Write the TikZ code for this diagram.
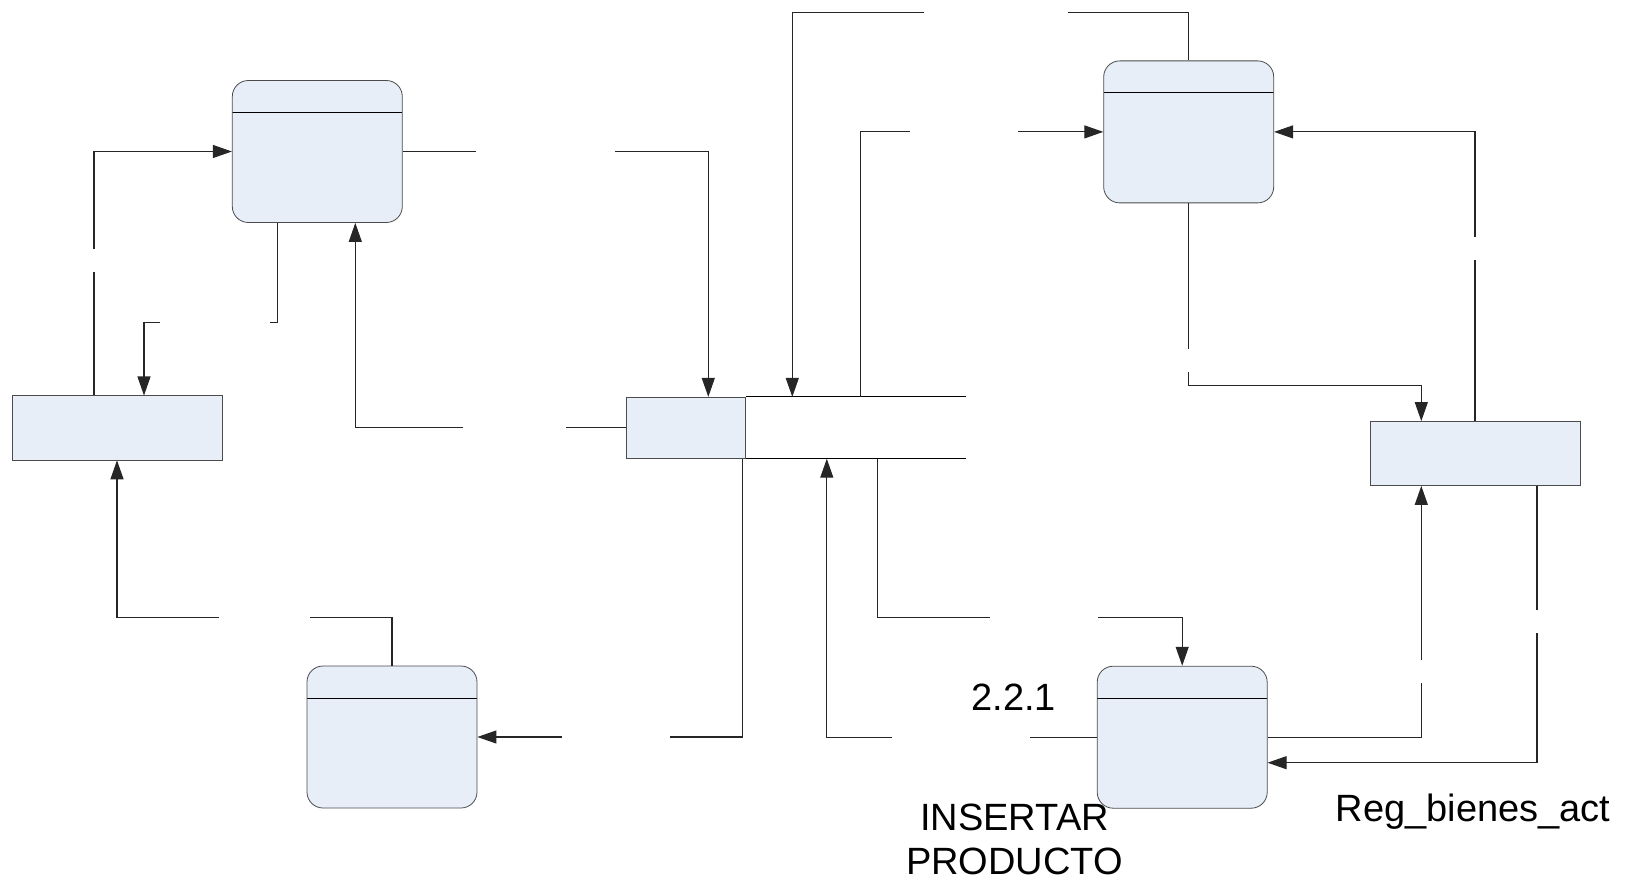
\documentclass[tikz,border=0pt]{standalone}
\usepackage{fontspec}
\setmainfont{Liberation Sans}
\usetikzlibrary{arrows.meta}
\definecolor{boxfill}{RGB}{231,238,248}

\begin{document}
\begin{tikzpicture}[x=0.5pt, y=-0.5pt,
        proc/.style={draw=black!70, fill=boxfill, rounded corners=8pt, minimum width=85pt, minimum height=71pt, inner sep=0pt,
            path picture={\draw[black, sharp corners] ([yshift=-16pt]path picture bounding box.north west) -- ([yshift=-16pt]path picture bounding box.north east);}},
        ent/.style={draw=black!70, fill=boxfill, minimum width=105pt, minimum height=32pt, inner sep=0pt},
        flow/.style={draw=black!85, line width=0.55pt, -{Triangle[length=9.5pt, width=6.5pt]}},
        txt/.style={inner sep=0pt, font=\fontsize{19}{22.8}\selectfont}]
        \useasboundingbox (0,0) rectangle (1629,882);

        \node[proc] (P1) at (317.3,151.5) {};
        \node[ent] (E1) at (117,427.9) {};
        \node[ent, minimum width=59.5pt, minimum height=30.5pt] (D) at (685.8,427.8) {};
        \node[proc] (P2) at (392,737) {};
        \node[proc] (P3) at (1188.7,131.9) {};
        \node[ent] (E2) at (1475,453.5) {};
        \node[proc] (P4) at (1182.2,737.2) {};

        % open side of the store
        \draw[black, line width=0.55pt] (D.north east) -- ++(110.35pt,0);
        \draw[black, line width=0.55pt] (D.south east) -- ++(110.35pt,0);

        \draw[flow] ([xshift=-11.5pt]E1.north) |- (P1.west);
        \draw[flow] ([xshift=-20pt]P1.south) -- ++(0,100) -| ([xshift=13.5pt]E1.north);
        \draw[flow] (D.west) -| ([xshift=19pt]P1.south);
        \draw[flow] (P1.east) -| ([xshift=11.25pt]D.north);
        \draw[flow] (P3.north) -- ++(0,-48) -| ([xshift=53.25pt]D.north);
        \draw[flow] ([xshift=87.5pt]D.north) |- (P3.west);
        \draw[flow] (E2.north) |- (P3.east);
        \draw[flow] (P3.south) -- ++(0,182) -| ([xshift=-26.85pt]E2.north);
        \draw[flow] ([xshift=28.25pt]D.south) |- (P2.east);
        \draw[flow] (P2.north) -- ++(0,-48) -| (E1.south);
        \draw[flow] ([xshift=96pt]D.south) -- ++(0,159) -| (P4.north);
        \draw[flow] (P4.west) -| ([xshift=70.5pt]D.south);
        \draw[flow] (P4.east) -| ([xshift=-26.85pt]E2.south);
        \draw[flow] ([xshift=31pt]E2.south) |- ([yshift=-12.75pt]P4.east);

        % blank label spots on the flows
        \foreach \xa/\ya/\xb/\yb in {89/249/99/272, 160/317/270/327, 463/423/566/433, 476/146/615/156,
                924/8/1068/18, 910/127/1018/137, 1470/237.3/1481/260, 1183/349.3/1194/371.7,
                561.7/731/670/742, 219/612/310/623, 990/612/1098/623, 892/731/1029.5/742,
                1416/660/1427/683.3, 1531/610/1542/633.3} {
            \fill[white] (\xa,\ya) rectangle (\xb,\yb);
        }

        \node[txt, anchor=base] (num) at (1013.7,710) {2.2.1};
        \node[txt, anchor=base] (name1) at (1014.5,830) {INSERTAR};
        \node[txt, anchor=base] (name2) at (1014.5,874) {PRODUCTO};
        \node[txt, anchor=base] (reg) at (1473,821.7) {Reg\_bienes\_act};
\end{tikzpicture}
\end{document}
